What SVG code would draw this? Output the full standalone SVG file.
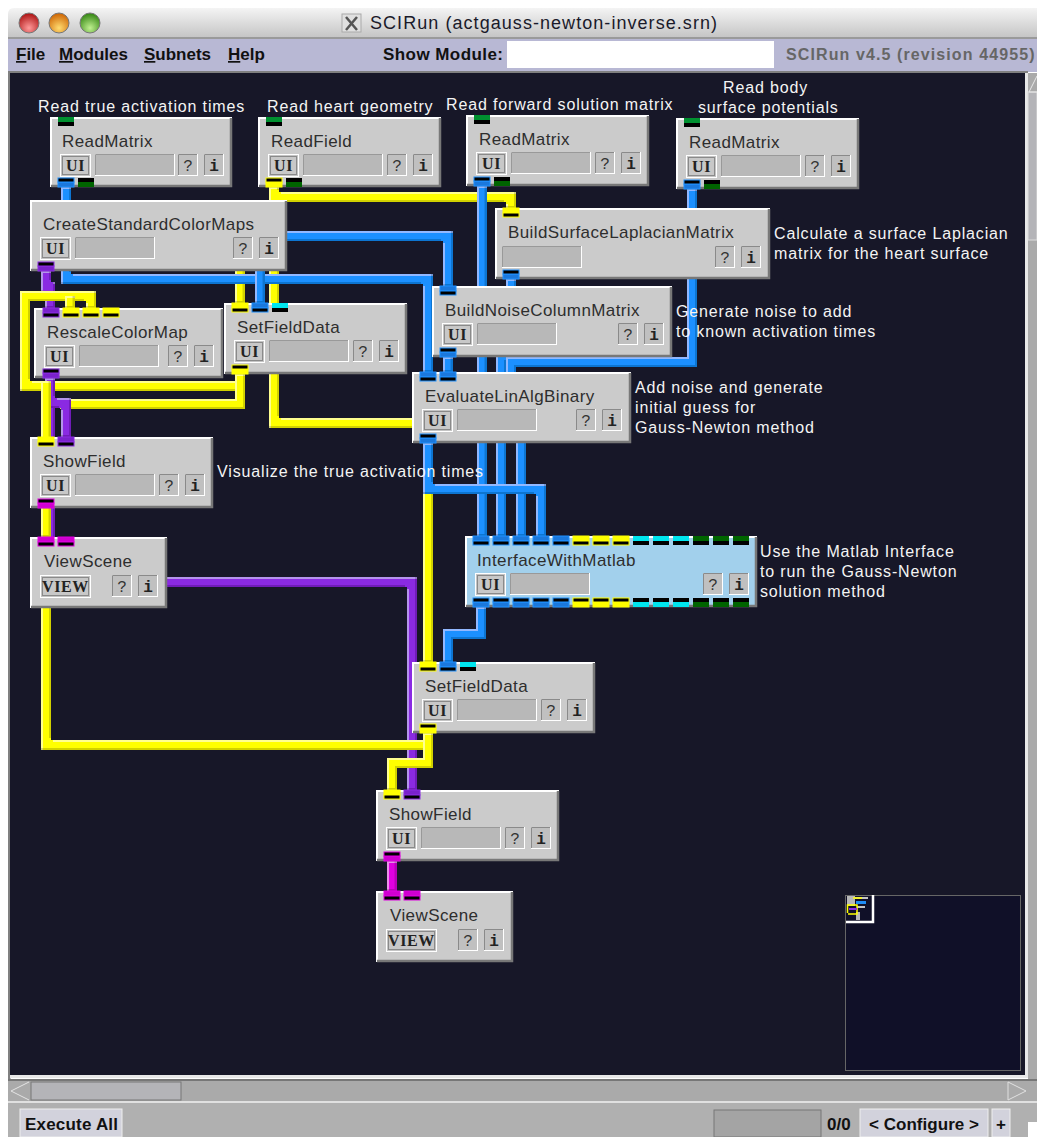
<svg xmlns="http://www.w3.org/2000/svg" width="1037" height="1137" viewBox="0 0 1037 1137">
<style>
text{font-family:"Liberation Sans",Arial,sans-serif}
.t{font-size:17px;letter-spacing:.4px;fill:#2e2e2e}
.b{font-family:"Liberation Serif","Times New Roman",serif;font-weight:700;font-size:16px;letter-spacing:.6px;fill:#222;text-anchor:middle}
.q{font-family:"Liberation Mono","Courier New",monospace;font-size:16px;fill:#333;text-anchor:middle}
.qi{font-weight:700;fill:#222}
.l{font-size:16px;letter-spacing:.85px;fill:#f4f4f4}
.m{font-size:17px;font-weight:700;fill:#111}
.u{text-decoration:underline}
.body{fill:#cbcbcb}
.matlab{fill:#a2d0ec}
.hl{fill:none;stroke:#fff;stroke-width:2}
.sd{fill:none;stroke:#787878;stroke-width:2.5}
.blue{stroke:#1e90ff;fill:#1b78dc}
.yel{stroke:#ffff00;fill:#ffff00}
.pur{stroke:#8a2be2;fill:#7a22cc}
.mag{stroke:#e000e0;fill:#d000d0}
.cya{fill:#00e5ee}
.grn{fill:#006400}
.gr2{fill:#009030}
use{stroke:none}
.w{fill:none;stroke-width:10;stroke-linejoin:miter;filter:url(#bevel)}
</style>
<defs>
<filter id="bevel" filterUnits="userSpaceOnUse" x="0" y="0" width="1037" height="1137">
<feOffset in="SourceAlpha" dx="2" dy="2" result="a"/>
<feComposite in="SourceAlpha" in2="a" operator="out" result="e1"/>
<feFlood flood-color="#fff" flood-opacity=".28"/>
<feComposite in2="e1" operator="in" result="light"/>
<feOffset in="SourceAlpha" dx="-2.5" dy="-2.5" result="c"/>
<feComposite in="SourceAlpha" in2="c" operator="out" result="e2"/>
<feFlood flood-color="#000" flood-opacity=".36"/>
<feComposite in2="e2" operator="in" result="dark"/>
<feMerge><feMergeNode in="SourceGraphic"/><feMergeNode in="light"/><feMergeNode in="dark"/></feMerge>
</filter>
<linearGradient id="tb" x1="0" y1="0" x2="0" y2="1"><stop offset="0" stop-color="#f4f4f4"/><stop offset="1" stop-color="#c4c4c4"/></linearGradient>
<radialGradient id="rd" cx=".5" cy=".75" r=".7"><stop offset="0" stop-color="#ff9a9a"/><stop offset="1" stop-color="#b01818"/></radialGradient>
<radialGradient id="or" cx=".5" cy=".75" r=".7"><stop offset="0" stop-color="#ffdc70"/><stop offset="1" stop-color="#d06a08"/></radialGradient>
<radialGradient id="gn" cx=".5" cy=".75" r=".7"><stop offset="0" stop-color="#c0f090"/><stop offset="1" stop-color="#3a8a18"/></radialGradient>
<g id="pi"><rect width="16" height="5"/><rect y="5" width="16" height="4" fill="#000"/></g>
<g id="po"><rect y="4" width="16" height="5"/><rect width="16" height="4" fill="#000"/></g>
<g id="ui"><rect x=".5" y=".5" width="30" height="22" fill="#c4c4c4" stroke="#fff"/><rect x="2.5" y="2.5" width="26" height="18" fill="#c8c8c8" stroke="#8a8a8a"/></g>
<g id="vw"><rect x=".5" y=".5" width="50" height="22" fill="#c4c4c4" stroke="#fff"/><rect x="2.5" y="2.5" width="46" height="18" fill="#c8c8c8" stroke="#8a8a8a"/></g>
<g id="pg"><rect x=".5" y=".5" width="79" height="21" fill="#b8b8b8" stroke="#fff"/><path d="M.5 21V.5H79" fill="none" stroke="#999"/></g>
<g id="hb"><rect x=".5" y=".5" width="19" height="21" fill="#c0c0c0" stroke="#fff"/><path d="M.5 21V.5H19" fill="none" stroke="#8a8a8a"/></g>
</defs>

<rect width="1037" height="1137" fill="#fff"/>
<path d="M8 38V14Q8 8 14 8H1037V38Z" fill="url(#tb)"/>
<rect x="8" y="37" width="1029" height="2" fill="#9a9a9a"/>
<circle cx="29" cy="23" r="10" fill="url(#rd)" stroke="#777"/>
<circle cx="59" cy="23" r="10" fill="url(#or)" stroke="#777"/>
<circle cx="90" cy="23" r="10" fill="url(#gn)" stroke="#777"/>
<rect x="342" y="14" width="19" height="18" fill="#e0e0e0" stroke="#aaa"/>
<path d="M346 17L357 30M357 17L346 30" stroke="#555" stroke-width="2.5"/>
<text x="370" y="29" font-size="18" fill="#1a1a2a" textLength="347">SCIRun (actgauss-newton-inverse.srn)</text>

<rect x="8" y="39" width="1029" height="33" fill="#b8b8d4"/>
<text class="m" x="16" y="60"><tspan class="u">F</tspan>ile</text>
<text class="m" x="59" y="60"><tspan class="u">M</tspan>odules</text>
<text class="m" x="144" y="60"><tspan class="u">S</tspan>ubnets</text>
<text class="m" x="228" y="60"><tspan class="u">H</tspan>elp</text>
<text class="m" x="383" y="60" textLength="120">Show Module:</text>
<rect x="507" y="41" width="267" height="27" fill="#fff"/>
<text x="786" y="60" font-size="16" font-weight="700" fill="#666" letter-spacing="1.1">SCIRun v4.5 (revision 44955)</text>

<rect x="8" y="71" width="1020" height="2.5" fill="#808080"/>
<rect x="8" y="72" width="2.5" height="1008" fill="#808080"/>
<rect x="10" y="73" width="1015" height="1002" fill="#171728"/>
<rect x="10" y="1075" width="1018" height="3" fill="#e8e8e8"/>
<rect x="1025" y="73" width="3" height="1005" fill="#e8e8e8"/>
<rect x="1028" y="73" width="9" height="1030" fill="#aaa"/>
<rect x="1028" y="92" width="9" height="148" fill="#b4b4b8" stroke="#ddd"/>
<path d="M1029 92L1037 76M1029 92H1037" fill="none" stroke="#e8e8e8"/>
<rect x="8" y="1079" width="1029" height="2" fill="#777"/>
<rect x="8" y="1081" width="1029" height="20" fill="#aaa"/>
<rect x="8" y="1101" width="1029" height="2" fill="#e0e0e0"/>
<rect x="31" y="1082" width="150" height="18" fill="#b4b4b8" stroke="#777"/>
<path d="M29 1082L11 1091L29 1100" fill="none" stroke="#e4e4e4"/>
<path d="M1008 1082L1026 1091L1008 1100Z" fill="#aaa" stroke="#e0e0e0"/>
<rect x="8" y="1103" width="1029" height="34" fill="#b0b0b0"/>
<rect x="20" y="1109" width="102" height="28" fill="#d2d2dc" stroke="#eee"/>
<text class="m" x="25" y="1130" font-size="16" textLength="93">Execute All</text>
<rect x="714" y="1110" width="107" height="27" fill="#a4a4a4" stroke="#777"/>
<text class="m" x="827" y="1130">0/0</text>
<rect x="860" y="1109" width="128" height="28" fill="#d2d2dc" stroke="#eee"/>
<text class="m" x="869" y="1130" textLength="110">&lt; Configure &gt;</text>
<rect x="992" y="1109" width="18" height="28" fill="#d2d2dc" stroke="#eee"/>
<text class="m" x="996" y="1130">+</text>
<rect x="1028" y="1122" width="9" height="15" fill="#fff"/>

<g id="minimap">
<rect x="845.500" y="895.500" width="175" height="175" fill="#101028" stroke="#666"/>
<rect x="847" y="896" width="8" height="10" fill="#b8b8b8"/>
<rect x="855" y="897" width="13" height="2" fill="#c4c4c4"/>
<rect x="856" y="901" width="10" height="3" fill="#1e8cf5"/>
<rect x="857" y="906" width="8" height="2" fill="#c4c4c4"/>
<rect x="856" y="912" width="4" height="8" fill="#b8b8b8"/>
<path d="M853 898H862M847.500 913V905H857V914H848" fill="none" stroke="#ff0" stroke-width="1.500"/>
<rect x="849" y="908" width="8" height="2" fill="#8a2be2"/>
<path d="M873 895V922H846" fill="none" stroke="#fff" stroke-width="2.500"/>
</g>

<g id="connectors">
<path class="w yel" d="M274 187V423H428V662"/>
<path class="w yel" d="M274 187V197H511V208"/>
<path class="w yel" d="M240 265V303"/>
<path class="w blue" d="M66 187V279H428V372"/>
<path class="w blue" d="M260 236H448V286"/>
<path class="w blue" d="M260 236V303"/>
<path class="w blue" d="M482 186V536"/>
<path class="w blue" d="M511 279V357H501V536"/>
<path class="w blue" d="M692 189V362H511V380H521V536"/>
<path class="w blue" d="M448 357V372"/>
<path class="w blue" d="M428 443V489H541V536"/>
<path class="w blue" d="M481 607V634H448V662"/>
<path class="w pur" d="M46 271V287H50V308"/>
<path class="w yel" d="M240 374V386H25V296H91V308"/>
<path class="w yel" d="M70 296V308"/>
<path class="w yel" d="M240 374V404H60"/>
<path class="w pur" d="M50 378V582H412V790"/>
<path class="w pur" d="M50 378V403H66V437"/>
<path class="w yel" d="M46 381V537"/>
<path class="w yel" d="M46 600V745H428V733"/>
<path class="w yel" d="M428 733V763H392V790"/>
<path class="w mag" d="M392 861V891"/>
</g>

<g id="readmatrix-true" transform="translate(50,117)"><rect class="body" width="182" height="70"/><path class="hl" d="M1 70V1H182"/><path class="sd" d="M1 69H181V1"/>
<use href="#pi" x="8" class="gr2"/><use href="#po" x="8" y="61" class="blue"/><use href="#po" x="28" y="61" class="grn"/>
<text class="t" x="12" y="30">ReadMatrix</text><use href="#ui" x="10" y="37"/><text class="b" x="25.500" y="54">UI</text><use href="#pg" x="45" y="37"/><use href="#hb" x="128" y="37"/><text class="q" x="138" y="54">?</text><use href="#hb" x="154" y="37"/><text class="q qi" x="164" y="54">i</text></g>

<g id="readfield" transform="translate(258,117)"><rect class="body" width="183" height="70"/><path class="hl" d="M1 70V1H183"/><path class="sd" d="M1 69H182V1"/>
<use href="#pi" x="8" class="gr2"/><use href="#po" x="8" y="61" class="yel"/><use href="#po" x="28" y="61" class="grn"/>
<text class="t" x="13" y="30">ReadField</text><use href="#ui" x="10" y="37"/><text class="b" x="25.500" y="54">UI</text><use href="#pg" x="45" y="37"/><use href="#hb" x="129" y="37"/><text class="q" x="139" y="54">?</text><use href="#hb" x="155" y="37"/><text class="q qi" x="165" y="54">i</text></g>

<g id="readmatrix-forward" transform="translate(466,115)"><rect class="body" width="183" height="71"/><path class="hl" d="M1 71V1H183"/><path class="sd" d="M1 70H182V1"/>
<use href="#pi" x="8" class="gr2"/><use href="#po" x="8" y="62" class="blue"/><use href="#po" x="28" y="62" class="grn"/>
<text class="t" x="13" y="30">ReadMatrix</text><use href="#ui" x="10" y="37"/><text class="b" x="25.500" y="54">UI</text><use href="#pg" x="45" y="37"/><use href="#hb" x="129" y="37"/><text class="q" x="139" y="54">?</text><use href="#hb" x="155" y="37"/><text class="q qi" x="165" y="54">i</text></g>

<g id="readmatrix-body" transform="translate(676,118)"><rect class="body" width="183" height="71"/><path class="hl" d="M1 71V1H183"/><path class="sd" d="M1 70H182V1"/>
<use href="#pi" x="8" class="gr2"/><use href="#po" x="8" y="62" class="blue"/><use href="#po" x="28" y="62" class="grn"/>
<text class="t" x="13" y="30">ReadMatrix</text><use href="#ui" x="10" y="37"/><text class="b" x="25.500" y="54">UI</text><use href="#pg" x="45" y="37"/><use href="#hb" x="129" y="37"/><text class="q" x="139" y="54">?</text><use href="#hb" x="155" y="37"/><text class="q qi" x="165" y="54">i</text></g>

<g id="createstandardcolormaps" transform="translate(30,200)"><rect class="body" width="257" height="71"/><path class="hl" d="M1 71V1H257"/><path class="sd" d="M1 70H256V1"/>
<use href="#po" x="8" y="62" class="pur"/>
<text class="t" x="13" y="30">CreateStandardColorMaps</text><use href="#ui" x="10" y="37"/><text class="b" x="25.500" y="54">UI</text><use href="#pg" x="45" y="37"/><use href="#hb" x="203" y="37"/><text class="q" x="213" y="54">?</text><use href="#hb" x="229" y="37"/><text class="q qi" x="239" y="54">i</text></g>

<g id="buildsurfacelaplacianmatrix" transform="translate(495,208)"><rect class="body" width="275" height="71"/><path class="hl" d="M1 71V1H275"/><path class="sd" d="M1 70H274V1"/>
<use href="#pi" x="8" class="yel"/><use href="#po" x="8" y="62" class="blue"/>
<text class="t" x="13" y="30">BuildSurfaceLaplacianMatrix</text><use href="#pg" x="7" y="38"/><use href="#hb" x="220" y="38"/><text class="q" x="230" y="55">?</text><use href="#hb" x="246" y="38"/><text class="q qi" x="256" y="55">i</text></g>

<g id="buildnoisecolumnmatrix" transform="translate(432,286)"><rect class="body" width="240" height="71"/><path class="hl" d="M1 71V1H240"/><path class="sd" d="M1 70H239V1"/>
<use href="#pi" x="8" class="blue"/><use href="#po" x="8" y="62" class="blue"/>
<text class="t" x="13" y="30">BuildNoiseColumnMatrix</text><use href="#ui" x="10" y="37"/><text class="b" x="25.500" y="54">UI</text><use href="#pg" x="45" y="37"/><use href="#hb" x="186" y="37"/><text class="q" x="196" y="54">?</text><use href="#hb" x="212" y="37"/><text class="q qi" x="222" y="54">i</text></g>

<g id="rescalecolormap" transform="translate(34,308)"><rect class="body" width="189" height="70"/><path class="hl" d="M1 70V1H189"/><path class="sd" d="M1 69H188V1"/>
<use href="#pi" x="9" class="pur"/><use href="#pi" x="29" class="yel"/><use href="#pi" x="49" class="yel"/><use href="#pi" x="69" class="yel"/><use href="#po" x="9" y="61" class="pur"/>
<text class="t" x="13" y="30">RescaleColorMap</text><use href="#ui" x="10" y="37"/><text class="b" x="25.500" y="54">UI</text><use href="#pg" x="45" y="37"/><use href="#hb" x="134" y="37"/><text class="q" x="144" y="54">?</text><use href="#hb" x="160" y="37"/><text class="q qi" x="170" y="54">i</text></g>

<g id="setfielddata-1" transform="translate(224,303)"><rect class="body" width="183" height="71"/><path class="hl" d="M1 71V1H183"/><path class="sd" d="M1 70H182V1"/>
<use href="#pi" x="8" class="yel"/><use href="#pi" x="28" class="blue"/><use href="#pi" x="48" class="cya"/><use href="#po" x="8" y="62" class="yel"/>
<text class="t" x="13" y="30">SetFieldData</text><use href="#ui" x="10" y="37"/><text class="b" x="25.500" y="54">UI</text><use href="#pg" x="45" y="37"/><use href="#hb" x="129" y="37"/><text class="q" x="139" y="54">?</text><use href="#hb" x="155" y="37"/><text class="q qi" x="165" y="54">i</text></g>

<g id="evaluatelinalgbinary" transform="translate(412,372)"><rect class="body" width="219" height="71"/><path class="hl" d="M1 71V1H219"/><path class="sd" d="M1 70H218V1"/>
<use href="#pi" x="8" class="blue"/><use href="#pi" x="28" class="blue"/><use href="#po" x="8" y="62" class="blue"/>
<text class="t" x="13" y="30">EvaluateLinAlgBinary</text><use href="#ui" x="10" y="37"/><text class="b" x="25.500" y="54">UI</text><use href="#pg" x="45" y="37"/><use href="#hb" x="164" y="37"/><text class="q" x="174" y="54">?</text><use href="#hb" x="190" y="37"/><text class="q qi" x="200" y="54">i</text></g>

<g id="showfield-1" transform="translate(30,437)"><rect class="body" width="183" height="71"/><path class="hl" d="M1 71V1H183"/><path class="sd" d="M1 70H182V1"/>
<use href="#pi" x="8" class="yel"/><use href="#pi" x="28" class="pur"/><use href="#po" x="8" y="62" class="mag"/>
<text class="t" x="13" y="30">ShowField</text><use href="#ui" x="10" y="37"/><text class="b" x="25.500" y="54">UI</text><use href="#pg" x="45" y="37"/><use href="#hb" x="129" y="37"/><text class="q" x="139" y="54">?</text><use href="#hb" x="155" y="37"/><text class="q qi" x="165" y="54">i</text></g>

<g id="viewscene-1" transform="translate(30,537)"><rect class="body" width="137" height="71"/><path class="hl" d="M1 71V1H137"/><path class="sd" d="M1 70H136V1"/>
<use href="#pi" x="8" class="mag"/><use href="#pi" x="28" class="mag"/>
<text class="t" x="14" y="30">ViewScene</text><use href="#vw" x="10" y="38"/><text class="b" x="35.500" y="55">VIEW</text><use href="#hb" x="82" y="38"/><text class="q" x="92" y="55">?</text><use href="#hb" x="108" y="38"/><text class="q qi" x="118" y="55">i</text></g>

<g id="interfacewithmatlab" transform="translate(465,536)"><rect class="matlab" width="292" height="71"/><path class="hl" d="M1 71V1H292"/><path class="sd" d="M1 70H291V1"/>
<use href="#pi" x="8" class="blue"/><use href="#pi" x="28" class="blue"/><use href="#pi" x="48" class="blue"/><use href="#pi" x="68" class="blue"/><use href="#pi" x="88" class="blue"/><use href="#pi" x="108" class="yel"/><use href="#pi" x="128" class="yel"/><use href="#pi" x="148" class="yel"/><use href="#pi" x="168" class="cya"/><use href="#pi" x="188" class="cya"/><use href="#pi" x="208" class="cya"/><use href="#pi" x="228" class="grn"/><use href="#pi" x="248" class="grn"/><use href="#pi" x="268" class="grn"/>
<use href="#po" x="8" y="62" class="blue"/><use href="#po" x="28" y="62" class="blue"/><use href="#po" x="48" y="62" class="blue"/><use href="#po" x="68" y="62" class="blue"/><use href="#po" x="88" y="62" class="blue"/><use href="#po" x="108" y="62" class="yel"/><use href="#po" x="128" y="62" class="yel"/><use href="#po" x="148" y="62" class="yel"/><use href="#po" x="168" y="62" class="cya"/><use href="#po" x="188" y="62" class="cya"/><use href="#po" x="208" y="62" class="cya"/><use href="#po" x="228" y="62" class="grn"/><use href="#po" x="248" y="62" class="grn"/><use href="#po" x="268" y="62" class="grn"/>
<text class="t" x="12" y="30">InterfaceWithMatlab</text><use href="#ui" x="10" y="37"/><text class="b" x="25.500" y="54">UI</text><use href="#pg" x="45" y="37"/><use href="#hb" x="238" y="37"/><text class="q" x="248" y="54">?</text><use href="#hb" x="264" y="37"/><text class="q qi" x="274" y="54">i</text></g>

<g id="setfielddata-2" transform="translate(412,662)"><rect class="body" width="183" height="71"/><path class="hl" d="M1 71V1H183"/><path class="sd" d="M1 70H182V1"/>
<use href="#pi" x="8" class="yel"/><use href="#pi" x="28" class="blue"/><use href="#pi" x="48" class="cya"/><use href="#po" x="8" y="62" class="yel"/>
<text class="t" x="13" y="30">SetFieldData</text><use href="#ui" x="10" y="37"/><text class="b" x="25.500" y="54">UI</text><use href="#pg" x="45" y="37"/><use href="#hb" x="129" y="37"/><text class="q" x="139" y="54">?</text><use href="#hb" x="155" y="37"/><text class="q qi" x="165" y="54">i</text></g>

<g id="showfield-2" transform="translate(376,790)"><rect class="body" width="183" height="71"/><path class="hl" d="M1 71V1H183"/><path class="sd" d="M1 70H182V1"/>
<use href="#pi" x="8" class="yel"/><use href="#pi" x="28" class="pur"/><use href="#po" x="8" y="62" class="mag"/>
<text class="t" x="13" y="30">ShowField</text><use href="#ui" x="10" y="37"/><text class="b" x="25.500" y="54">UI</text><use href="#pg" x="45" y="37"/><use href="#hb" x="129" y="37"/><text class="q" x="139" y="54">?</text><use href="#hb" x="155" y="37"/><text class="q qi" x="165" y="54">i</text></g>

<g id="viewscene-2" transform="translate(376,891)"><rect class="body" width="137" height="71"/><path class="hl" d="M1 71V1H137"/><path class="sd" d="M1 70H136V1"/>
<use href="#pi" x="8" class="mag"/><use href="#pi" x="28" class="mag"/>
<text class="t" x="14" y="30">ViewScene</text><use href="#vw" x="10" y="38"/><text class="b" x="35.500" y="55">VIEW</text><use href="#hb" x="82" y="38"/><text class="q" x="92" y="55">?</text><use href="#hb" x="108" y="38"/><text class="q qi" x="118" y="55">i</text></g>

<g id="labels">
<text class="l" x="38" y="112">Read true activation times</text>
<text class="l" x="267" y="112">Read heart geometry</text>
<text class="l" x="446" y="110">Read forward solution matrix</text>
<text class="l" x="723" y="93">Read body</text>
<text class="l" x="698" y="113">surface potentials</text>
<text class="l" x="774" y="239">Calculate a surface Laplacian</text>
<text class="l" x="774" y="259">matrix for the heart surface</text>
<text class="l" x="676" y="317">Generate noise to add</text>
<text class="l" x="676" y="337">to known activation times</text>
<text class="l" x="635" y="393">Add noise and generate</text>
<text class="l" x="635" y="413">initial guess for</text>
<text class="l" x="635" y="433">Gauss-Newton method</text>
<text class="l" x="217" y="477">Visualize the true activation times</text>
<text class="l" x="760" y="557">Use the Matlab Interface</text>
<text class="l" x="760" y="577">to run the Gauss-Newton</text>
<text class="l" x="760" y="597">solution method</text>
</g>
</svg>
